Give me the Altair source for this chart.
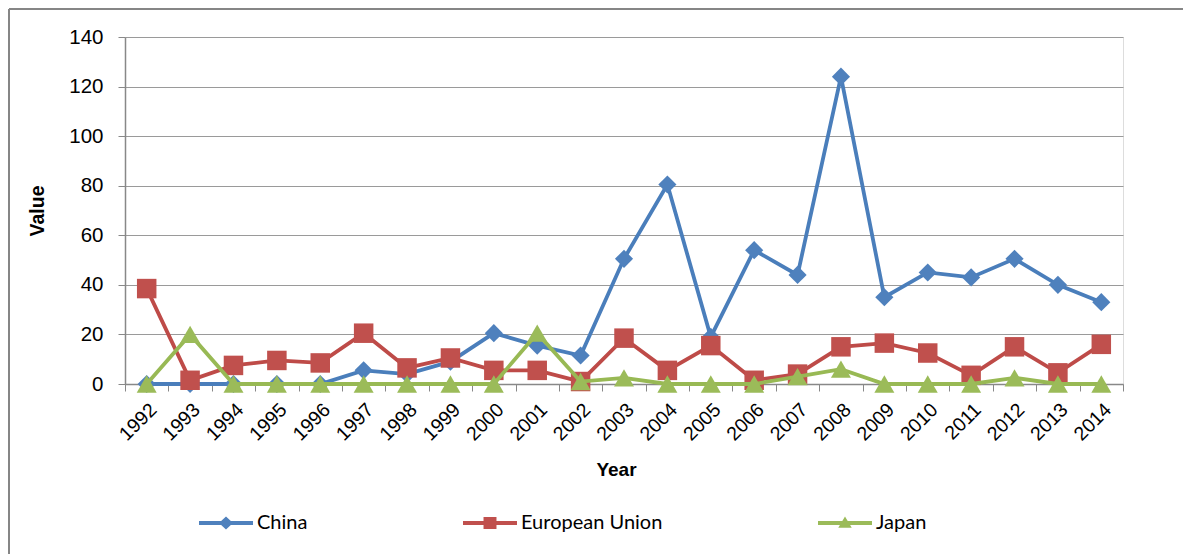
import altair as alt
import pandas as pd

years = ["1992", "1993", "1994", "1995", "1996", "1997", "1998", "1999", "2000",
         "2001", "2002", "2003", "2004", "2005", "2006", "2007", "2008", "2009",
         "2010", "2011", "2012", "2013", "2014"]
china = [0, 0, 0, 0, 0, 5.5, 4, 9, 20.5, 15.5, 11.5, 50.5, 80.5, 19, 54, 44, 124,
         35, 45, 43, 50.5, 40, 33]
eu = [38.5, 1.5, 7.5, 9.5, 8.5, 20.5, 6.5, 10.5, 5.5, 5.5, 1, 18.5, 5.5, 15.5, 1.5,
      4, 15, 16.5, 12.5, 3.5, 15, 4.5, 16]
japan = [0, 20, 0, 0, 0, 0, 0, 0, 0, 20.5, 1, 2.5, 0, 0, 0, 3, 6, 0, 0, 0, 2.5, 0, 0]
y_ticks = [0, 20, 40, 60, 80, 100, 120, 140]

series_names = ["China", "European Union", "Japan"]
line_colors = ["#4A7EBB", "#BE4B48", "#98B954"]
marker_colors = ["#4F81BD", "#C0504D", "#9BBB59"]
marker_shapes = ["diamond", "square", "triangle-up"]
marker_sizes = [330, 380, 400]
legend_paths = [
    "M-1,-0.075L1,-0.075L1,0.075L-1,0.075Z M0,-0.24L0.26,0L0,0.24L-0.26,0Z",
    "M-1,-0.075L1,-0.075L1,0.075L-1,0.075Z M-0.24,-0.22L0.24,-0.22L0.24,0.22L-0.24,0.22Z",
    "M-1,-0.075L1,-0.075L1,0.075L-1,0.075Z M0,-0.24L0.25,0.18L-0.25,0.18Z",
]

values = [china, eu, japan]
df = pd.DataFrame({
    "Year": years * 3,
    "Value": china + eu + japan,
    "Series": [s for s, v in zip(series_names, values) for _ in v],
})

x_enc = alt.X(
    "Year:O", sort=years, bandPosition=0.5,
    scale=alt.Scale(type="band", paddingInner=0, paddingOuter=0),
    axis=alt.Axis(
        tickBand="extent", ticks=True, tickSize=7, tickColor="#888888",
        domainColor="#888888", domainWidth=1.5, labelAngle=-45, labelFontSize=19.5,
        labelFont="Liberation Sans", labelColor="#000000", labelPadding=9,
        title="Year", titleFont="Liberation Sans", titleFontSize=19,
        titleFontWeight="bold", titleColor="#000000", titleY=76, titleX=491,
        grid=False,
    ),
)
y_enc = alt.Y(
    "Value:Q", scale=alt.Scale(domain=[0, 140]),
    axis=alt.Axis(
        values=y_ticks, grid=True, gridColor="#9a9a9a", gridWidth=1.2,
        domainColor="#888888", domainWidth=1.5, tickColor="#888888", tickSize=7,
        labelFontSize=20.5, labelFont="Liberation Sans", labelColor="#000000",
        labelPadding=15, title="Value", titleFont="Liberation Sans",
        titleFontSize=19.5, titleFontWeight="bold", titleColor="#000000",
        titleX=-78,
    ),
)

base = alt.Chart(df)
layers = []
for name, lc, mc, shp, sz in zip(series_names, line_colors, marker_colors,
                                 marker_shapes, marker_sizes):
    sub = base.transform_filter(alt.datum.Series == name)
    layers.append(sub.mark_line(color=lc, strokeWidth=3.8).encode(x=x_enc, y=y_enc))
    layers.append(sub.mark_point(shape=shp, filled=True, color=mc, size=sz,
                                 opacity=1).encode(x=x_enc, y=y_enc))

legend_props = dict(
    title=None, orient="none", legendX=74, legendY=459,
    direction="horizontal", symbolSize=2916,
    symbolStrokeWidth=0, labelFont="Lato", labelFontSize=20,
    labelColor="#000000", labelOffset=4, columnPadding=155,
)
legend_layer = base.transform_filter("false").mark_point(filled=True, opacity=1).encode(
    x=x_enc, y=y_enc,
    color=alt.Color("Series:N",
                    scale=alt.Scale(domain=series_names, range=marker_colors),
                    legend=alt.Legend(**legend_props)),
    shape=alt.Shape("Series:N",
                    scale=alt.Scale(domain=series_names, range=legend_paths),
                    legend=alt.Legend(**legend_props)),
)

frame = alt.Chart(pd.DataFrame({"k": [0]}))
top_rule = frame.mark_rule(color="#868686", strokeWidth=2).encode(
    x=alt.value(-116), x2=alt.value(1060), y=alt.value(-28))
left_rule = frame.mark_rule(color="#868686", strokeWidth=2).encode(
    x=alt.value(-116), y=alt.value(-28), y2=alt.value(520))

chart = alt.layer(top_rule, left_rule, *layers, legend_layer).properties(
    width=998, height=347,
    autosize=alt.AutoSizeParams(type="none"),
    padding={"left": 117, "top": 29, "right": 60, "bottom": 170},
).configure_view(strokeWidth=0).configure(background="#ffffff")

chart.save("out.html", embed_options={"renderer": "svg", "actions": False})
